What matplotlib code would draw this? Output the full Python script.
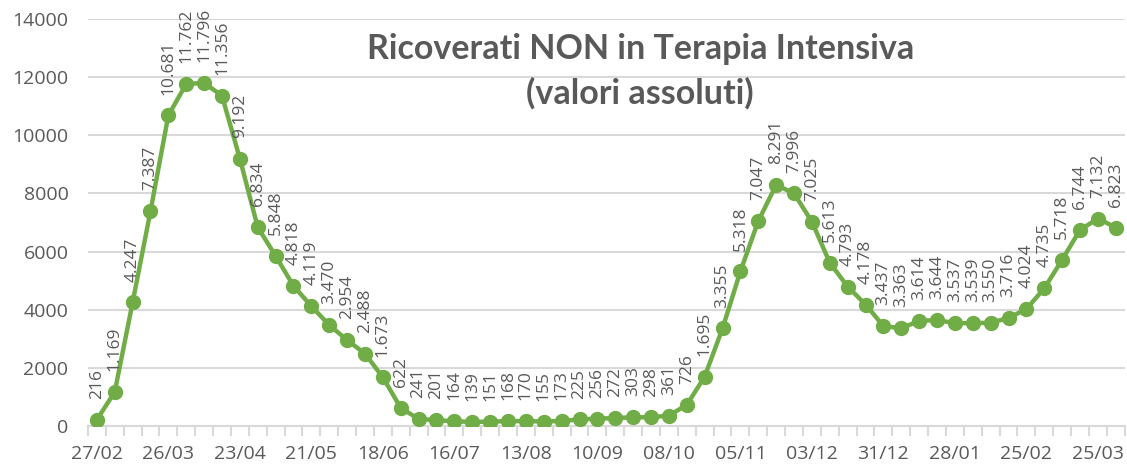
import numpy as np
import pandas as pd
import matplotlib
matplotlib.use("Agg")
import matplotlib.pyplot as plt

# weekly values, first week starting 27/02/2020
start_date = "2020-02-27"
values = [216, 1169, 4247, 7387, 10681, 11762, 11796, 11356, 9192, 6834,
          5848, 4818, 4119, 3470, 2954, 2488, 1673, 622, 241, 201,
          164, 139, 151, 168, 170, 155, 173, 225, 256, 272,
          303, 298, 361, 726, 1695, 3355, 5318, 7047, 8291, 7996,
          7025, 5613, 4793, 4178, 3437, 3363, 3614, 3644, 3537, 3539,
          3550, 3716, 4024, 4735, 5718, 6744, 7132, 6823]
label_step = 4
y_ticks = list(range(0, 14001, 2000))
title = "Ricoverati NON in Terapia Intensiva\n(valori assoluti)"

dates = pd.date_range(start_date, periods=len(values), freq="7D")
x = np.arange(len(values))

green = "#70AD47"
gray_txt = "#595959"
grid_col = "#D9D9D9"

plt.rcParams["font.family"] = ["Open Sans", "DejaVu Sans"]

fig = plt.figure(figsize=(11.27, 4.71), dpi=100)
ax = fig.add_axes([0.078, 0.0955, 0.92, 0.8645])

ax.plot(x, values, color=green, lw=3.2, marker="o", ms=10, zorder=3)

# data labels, italian thousands separator
for xi, v in zip(x, values):
    txt = f"{v:,}".replace(",", ".")
    ax.annotate(txt, (xi, v), xytext=(0, 15), textcoords="offset points",
                rotation=90, ha="center", va="bottom", fontsize=12.5,
                color=gray_txt, zorder=4)

ax.set_xlim(-0.5, len(values) - 0.5)
ax.set_ylim(0, 14000)
ax.set_yticks(y_ticks)
ax.set_yticklabels([str(t) for t in y_ticks])
ax.grid(axis="y", color=grid_col, lw=1.5, zorder=0)
ax.set_axisbelow(True)

idx = x[::label_step]
ax.set_xticks(idx)
ax.set_xticklabels([dates[i].strftime("%d/%m") for i in idx])
ax.set_xticks(np.arange(-0.5, len(values), 1), minor=True)
ax.tick_params(axis="x", which="major", length=0, pad=14, labelsize=14, labelcolor=gray_txt)
ax.tick_params(axis="x", which="minor", length=7, width=1.5, color=grid_col)
ax.tick_params(axis="y", length=0, pad=14, labelsize=14, labelcolor=gray_txt)

for s in ["top", "right", "left"]:
    ax.spines[s].set_visible(False)
ax.spines["bottom"].set_color(grid_col)
ax.spines["bottom"].set_linewidth(1.5)

fig.text(0.568, 0.93, title, ha="center", va="top", fontsize=24.5,
         fontweight="bold", color=gray_txt, family=["Lato", "DejaVu Sans"],
         linespacing=1.45)

fig.savefig("out.png", dpi=100, facecolor="white")
